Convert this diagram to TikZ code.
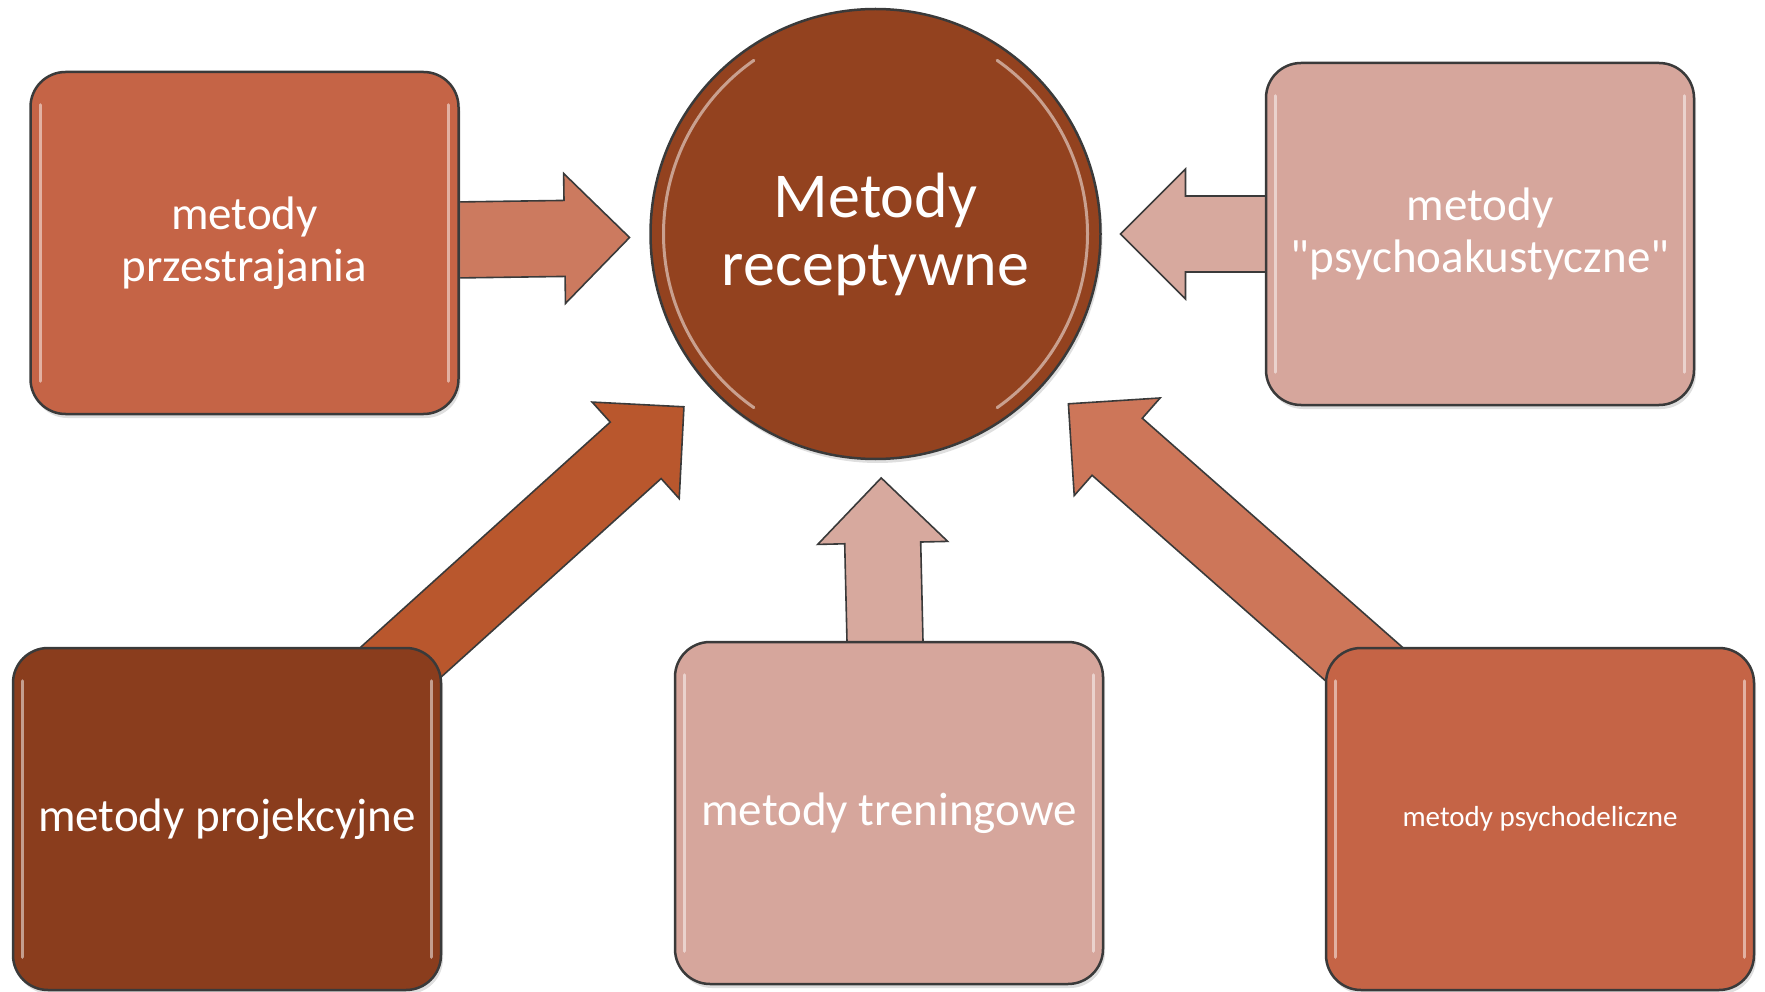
\documentclass[tikz,border=0pt]{standalone}
\usepackage{fontspec}
\setmainfont{Carlito}[Ligatures=TeXOff]
\usepackage{tikz}
\usetikzlibrary{calc, shadows, backgrounds}

\definecolor{rimgray}{RGB}{58,58,58}
\definecolor{terracotta}{RGB}{197,100,70}
\definecolor{rust}{RGB}{138,61,29}
\definecolor{hubbrown}{RGB}{147,66,31}
\definecolor{rosy}{RGB}{214,166,156}
\definecolor{arrowterra}{RGB}{204,122,95}
\definecolor{arrowrosy}{RGB}{215,169,158}
\definecolor{arrowrust}{RGB}{185,87,45}
\definecolor{arrowsalmon}{RGB}{205,118,89}

\begin{document}
\begin{tikzpicture}[x=1pt, y=-1pt,
	method/.style={rectangle, rounded corners=35pt, minimum width=428pt, minimum height=342pt,
		draw=rimgray, line width=2.5pt, text=white, align=center, inner sep=0pt,
		font=\fontsize{47}{52}\selectfont,
		drop shadow={opacity=0.25, shadow xshift=2pt, shadow yshift=-4pt}},
	hub/.style={circle, minimum size=450pt, fill=hubbrown, draw=rimgray, line width=2.5pt,
		text=white, align=center, inner sep=0pt, font=\fontsize{64}{68}\selectfont,
		drop shadow={opacity=0.25, shadow xshift=2pt, shadow yshift=-4pt}},
	fat/.style={draw=rimgray, line width=1.6pt, line join=miter},
	shine/.style={draw=white, opacity=0.5, line width=3pt, line cap=round}]
	
	\def\fatarrow[#1](#2)(#3:#4)% Syntax: [fill options] (from node) (to node:distance of the tip)
	{ \coordinate (tip) at ($(#3)!#4!(#2)$);
	  \coordinate (neck) at ($(tip)!65pt!(#2)$);
	  \filldraw[fat,#1] ($(#2)!38pt!90:(tip)$) -- ($(neck)!38pt!-90:(#2)$) -- ($(neck)!65pt!-90:(#2)$) -- (tip)
	    -- ($(neck)!65pt!90:(#2)$) -- ($(neck)!38pt!90:(#2)$) -- ($(#2)!38pt!-90:(tip)$) -- cycle; }
	
	\def\gloss(#1)% Syntax: (node)
	{ \draw[shine] ([shift={(11pt,-34pt)}]#1.north west) -- ([shift={(11pt,34pt)}]#1.south west);
	  \draw[shine] ([shift={(-11pt,-34pt)}]#1.north east) -- ([shift={(-11pt,34pt)}]#1.south east); }
	
	\useasboundingbox (0,0) rectangle (1765,992);
	
	\node[hub] (hub) at (875.5,234) {Metody\\receptywne};
	\node[method, fill=terracotta] (prz) at (244.5,243) {metody\\przestrajania};
	\node[method, fill=rosy] (psa) at (1480,234) {metody\\"psychoakustyczne"};
	\node[method, fill=rust] (prj) at (227,819) {metody projekcyjne};
	\node[method, fill=rosy] (tre) at (889,813) {metody treningowe};
	\node[method, fill=terracotta, font=\fontsize{29}{35}\selectfont] (psd) at (1540,819) {metody psychodeliczne};
	
	\gloss(prz); \gloss(psa); \gloss(prj); \gloss(tre); \gloss(psd);
	\draw[shine] ([shift={(-55:212pt)}]hub.center) arc[start angle=-55, end angle=55, radius=212pt];
	\draw[shine] ([shift={(125:212pt)}]hub.center) arc[start angle=125, end angle=235, radius=212pt];
	
	\begin{pgfonlayer}{background}
		\fatarrow[fill=arrowterra](prz)(hub:246pt);
		\fatarrow[fill=arrowrosy](psa)(hub:245pt);
		\fatarrow[fill=arrowrosy](tre)(hub:244pt);
		\fatarrow[fill=arrowrust](prj)(hub:258pt);
		\fatarrow[fill=arrowsalmon](psd)(hub:257pt);
	\end{pgfonlayer}
\end{tikzpicture}
\end{document}
